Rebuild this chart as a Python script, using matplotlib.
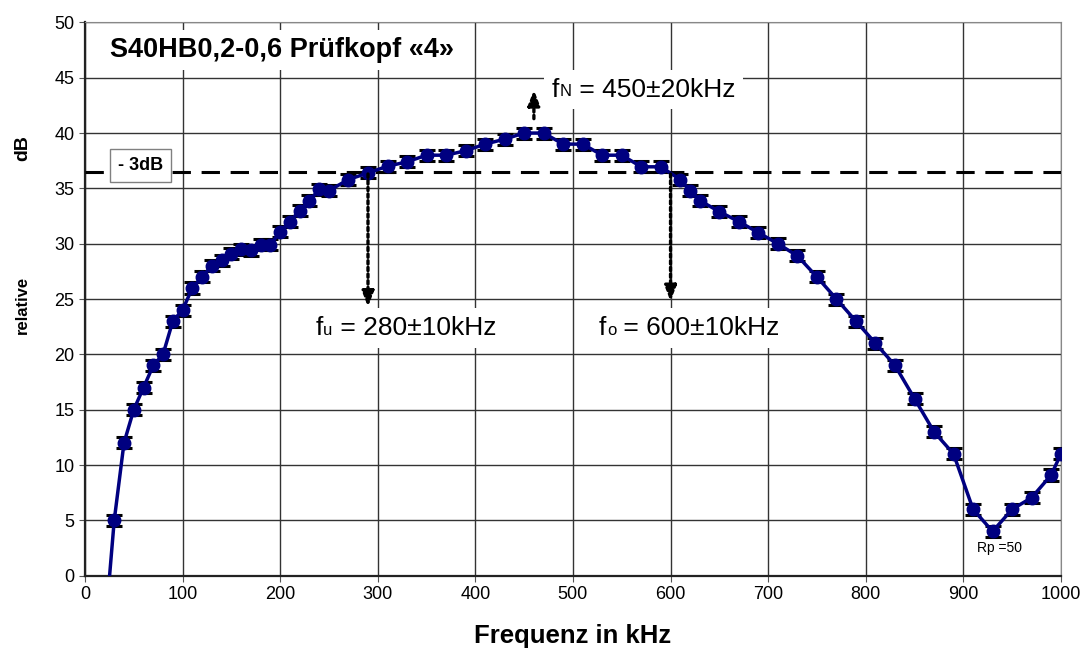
import matplotlib
matplotlib.use("Agg")
import matplotlib.pyplot as plt
from matplotlib.patches import Rectangle

FREQ = [20, 30, 40, 50, 60, 70, 80, 90, 100, 110, 120, 130, 140, 150, 160, 170, 180, 190,
        200, 210, 220, 230, 240, 250, 270, 290, 310, 330, 350, 370, 390, 410, 430, 450,
        470, 490, 510, 530, 550, 570, 590, 610, 620, 630, 650, 670, 690, 710, 730, 750,
        770, 790, 810, 830, 850, 870, 890, 910, 930, 950, 970, 990, 1000]
LEVEL = [-5.5, 5.0, 12.0, 15.0, 17.0, 19.0, 20.0, 23.0, 24.0, 26.0, 27.0, 28.0, 28.5, 29.1,
         29.5, 29.4, 29.9, 29.9, 31.1, 32.0, 33.0, 33.9, 34.9, 34.8, 35.8, 36.4, 37.0, 37.4,
         38.0, 38.0, 38.4, 39.0, 39.45, 40.0, 40.0, 39.0, 39.0, 38.0, 38.0, 36.95, 36.95,
         35.8, 34.8, 33.9, 32.9, 32.0, 31.0, 30.0, 28.9, 27.0, 25.0, 23.0, 21.0, 19.0, 16.0,
         13.0, 11.0, 6.0, 4.0, 6.0, 7.05, 9.1, 11.0]
ERR = 0.5

LEVEL_3DB = 36.5
F_NOMINAL = 460
F_LOWER = 290
F_UPPER = 600

TITLE = "S40HB0,2-0,6 Prüfkopf «4»"
XLABEL = "Frequenz in kHz"

plt.rcParams["font.family"] = ["Liberation Sans", "DejaVu Sans"]


def dotted_arrow(ax, x, y0, y1):
    ax.annotate("", xy=(x, y1), xytext=(x, y0),
                arrowprops=dict(arrowstyle="-|>,head_length=0.9,head_width=0.35",
                                linestyle=(0, (1, 1)), lw=2.4, color="black",
                                shrinkA=0, shrinkB=0), zorder=5)


def freq_label(ax, x, y, sub, rest):
    # "f" + kleiner Index + Rest, alles auf einer Grundlinie
    box = dict(boxstyle="square,pad=0.3", facecolor="white", edgecolor="none")
    t1 = ax.text(x, y, "f", fontsize=19, va="baseline", zorder=6, bbox=box)
    t2 = ax.annotate(sub, xy=(1, 0), xycoords=t1, xytext=(0.5, 1.5),
                     textcoords="offset points", fontsize=12, ha="left", va="bottom",
                     zorder=8)
    ax.annotate(rest, xy=(1, 0), xycoords=t2, xytext=(0, -1.5),
                textcoords="offset points", fontsize=19, ha="left", va="bottom",
                zorder=7, bbox=box)


def main():
    fig = plt.figure(figsize=(10.85, 6.53), dpi=100)
    ax = fig.add_axes([0.0783, 0.1184, 0.8995, 0.8473])

    ax.set_xlim(0, 1000)
    ax.set_ylim(0, 50)
    ax.set_xticks(range(0, 1001, 100))
    ax.set_yticks(range(0, 51, 5))
    ax.grid(True, color="#333333", lw=1.0)
    ax.set_axisbelow(True)
    ax.tick_params(labelsize=13, length=4, direction="out", color="#555555")
    for side in ["top", "right"]:
        ax.spines[side].set_color("#888888")
    for side in ["left", "bottom"]:
        ax.spines[side].set_color("#222222")
        ax.spines[side].set_linewidth(1.6)

    ax.errorbar(FREQ, LEVEL, yerr=ERR, color="#000080", ecolor="black", lw=2.5,
                elinewidth=1.5, capsize=5.5, capthick=2.2, marker="o", ms=9,
                mfc="#000080", mec="#000080", zorder=4)

    ax.axhline(LEVEL_3DB, color="black", lw=2.2, dashes=(6, 3.5), zorder=3)

    ax.add_patch(Rectangle((0.003, 0.914), 0.394, 0.072, transform=ax.transAxes,
                           facecolor="white", edgecolor="none", zorder=2))
    ax.text(25.6, 47.5, TITLE, fontsize=19.5, fontweight="bold", va="center", zorder=6)

    ax.text(57, 37.1, "- 3dB", fontsize=13, fontweight="bold", ha="center", va="center",
            zorder=6, bbox=dict(boxstyle="square,pad=0.45", facecolor="white",
                                edgecolor="#808080", lw=1))

    dotted_arrow(ax, F_NOMINAL, 41.3, 43.9)
    dotted_arrow(ax, F_LOWER, LEVEL_3DB - 0.2, 24.3)
    dotted_arrow(ax, F_UPPER, LEVEL_3DB - 0.2, 24.8)

    freq_label(ax, 478, 43.3, "N", " = 450±20kHz")
    freq_label(ax, 236, 21.75, "u", " = 280±10kHz")
    freq_label(ax, 526.5, 21.75, "o", " = 600±10kHz")
    ax.text(914, 2.5, "Rp =50", fontsize=10, va="center", zorder=6)

    ax.set_xlabel(XLABEL, fontsize=18.5, fontweight="bold", labelpad=15)

    fig.text(0.021, 1 - 148 / 653, "dB", fontsize=14, fontweight="bold", rotation=90,
             ha="center", va="center")
    fig.text(0.021, 1 - 305 / 653, "relative", fontsize=12, fontweight="bold", rotation=90,
             ha="center", va="center")

    fig.savefig("out.png", dpi=100)
    plt.close(fig)


if __name__ == "__main__":
    main()
